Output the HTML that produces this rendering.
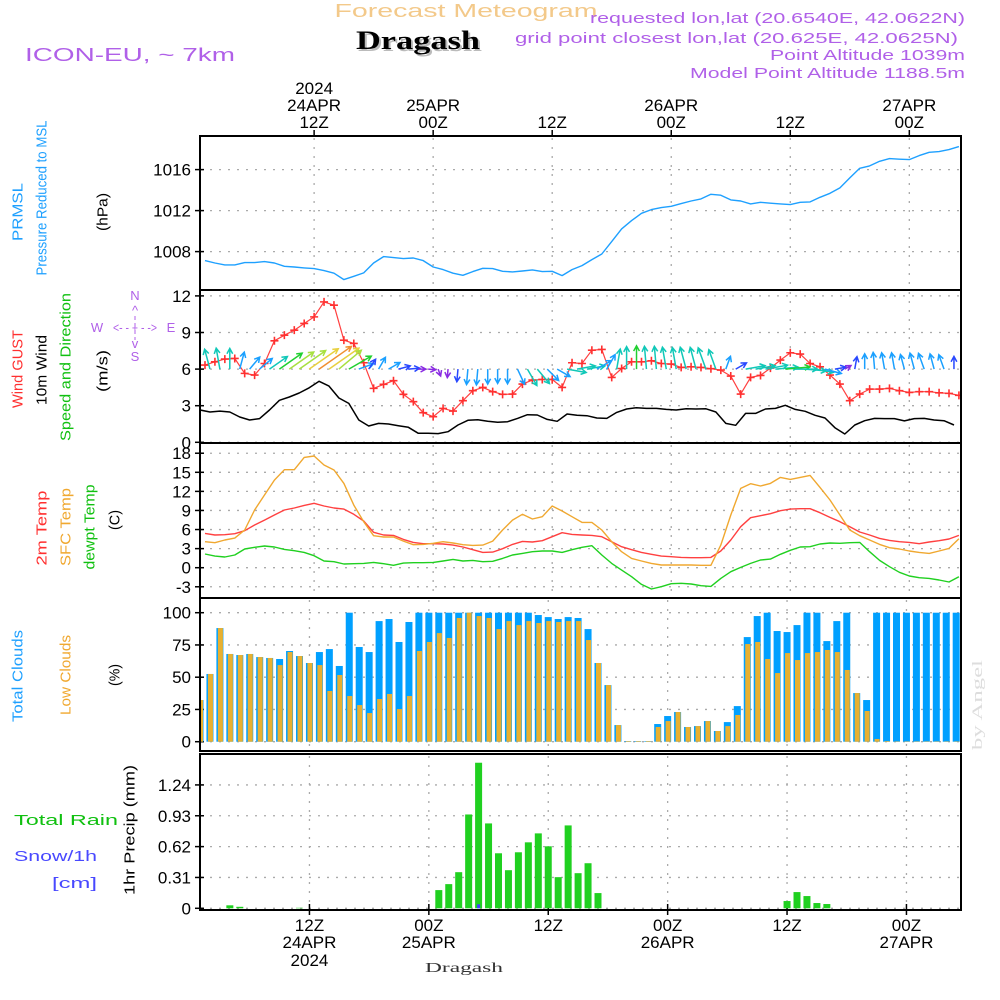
<!DOCTYPE html>
<html><head><meta charset="utf-8">
<style>
body{margin:0;background:#fff}
svg{display:block;font-family:"Liberation Sans",sans-serif}
</style></head>
<body>
<svg id="c" width="1000" height="1000" viewBox="0 0 1000 1000">
<rect x="0" y="0" width="1000" height="1000" fill="#fff"/>
<defs><clipPath id="plotclip"><rect x="201" y="130" width="759" height="790"/></clipPath></defs>
<text x="466" y="17" text-anchor="middle" font-size="18" fill="#f3c98a" textLength="263" lengthAdjust="spacingAndGlyphs">Forecast Meteogram</text>
<text x="418" y="49" text-anchor="middle" font-size="26" font-weight="bold" font-family="Liberation Serif, serif" fill="#bbb" textLength="124" lengthAdjust="spacingAndGlyphs" transform="translate(2,2)">Dragash</text>
<text x="418" y="49" text-anchor="middle" font-size="26" font-weight="bold" font-family="Liberation Serif, serif" fill="#000" textLength="124" lengthAdjust="spacingAndGlyphs">Dragash</text>
<text x="25" y="61" font-size="18" fill="#b060e8" textLength="210" lengthAdjust="spacingAndGlyphs">ICON-EU, ~ 7km</text>
<text x="965" y="23" text-anchor="end" font-size="15" fill="#b060e8" textLength="375" lengthAdjust="spacingAndGlyphs">requested lon,lat (20.6540E, 42.0622N)</text>
<text x="958" y="43" text-anchor="end" font-size="15" fill="#b060e8" textLength="443" lengthAdjust="spacingAndGlyphs">grid point closest lon,lat (20.625E, 42.0625N)</text>
<text x="965" y="60" text-anchor="end" font-size="15" fill="#b060e8" textLength="195" lengthAdjust="spacingAndGlyphs">Point Altitude 1039m</text>
<text x="965" y="78" text-anchor="end" font-size="15" fill="#b060e8" textLength="275" lengthAdjust="spacingAndGlyphs">Model Point Altitude 1188.5m</text>
<text x="464" y="972" text-anchor="middle" font-size="14" font-family="Liberation Serif, serif" fill="#333" textLength="78" lengthAdjust="spacingAndGlyphs">Dragash</text>
<text transform="translate(978,705) rotate(-90)" text-anchor="middle" dominant-baseline="central" font-size="15" font-family="Liberation Serif, serif" fill="#ddd" textLength="90" lengthAdjust="spacingAndGlyphs">by Angel</text>

<text transform="translate(18,212) rotate(-90)" text-anchor="middle" dominant-baseline="central" font-size="15" fill="#1ea0ff" textLength="58" lengthAdjust="spacingAndGlyphs">PRMSL</text>
<text transform="translate(42,198) rotate(-90)" text-anchor="middle" dominant-baseline="central" font-size="15" fill="#1ea0ff" textLength="155" lengthAdjust="spacingAndGlyphs">Pressure Reduced to MSL</text>
<text transform="translate(103,212) rotate(-90)" text-anchor="middle" dominant-baseline="central" font-size="15" fill="#000" textLength="38" lengthAdjust="spacingAndGlyphs">(hPa)</text>
<text transform="translate(18,369) rotate(-90)" text-anchor="middle" dominant-baseline="central" font-size="15" fill="#ff3030" textLength="78" lengthAdjust="spacingAndGlyphs">Wind GUST</text>
<text transform="translate(42,370) rotate(-90)" text-anchor="middle" dominant-baseline="central" font-size="15" fill="#000" textLength="70" lengthAdjust="spacingAndGlyphs">10m Wind</text>
<text transform="translate(66,367) rotate(-90)" text-anchor="middle" dominant-baseline="central" font-size="15" fill="#10c010" textLength="148" lengthAdjust="spacingAndGlyphs">Speed and Direction</text>
<text transform="translate(103,371) rotate(-90)" text-anchor="middle" dominant-baseline="central" font-size="15" fill="#000" textLength="42" lengthAdjust="spacingAndGlyphs">(m/s)</text>
<g fill="#b060e8" font-size="13" text-anchor="middle">
<text x="135" y="300">N</text><text x="135" y="315">^</text><text x="135" y="348">v</text><text x="135" y="361">S</text>
<text x="97" y="332">W</text><text x="171" y="332">E</text><text x="135" y="332" textLength="44" lengthAdjust="spacingAndGlyphs">&lt;- - + - -&gt;</text>
<line x1="135" y1="316" x2="135" y2="340" stroke="#b060e8" stroke-dasharray="4,3"/>
</g>
<text transform="translate(42,528) rotate(-90)" text-anchor="middle" dominant-baseline="central" font-size="15" fill="#ff3030" textLength="75" lengthAdjust="spacingAndGlyphs">2m Temp</text>
<text transform="translate(66,527) rotate(-90)" text-anchor="middle" dominant-baseline="central" font-size="15" fill="#f0a830" textLength="78" lengthAdjust="spacingAndGlyphs">SFC Temp</text>
<text transform="translate(90,527) rotate(-90)" text-anchor="middle" dominant-baseline="central" font-size="15" fill="#10c010" textLength="85" lengthAdjust="spacingAndGlyphs">dewpt Temp</text>
<text transform="translate(115,520) rotate(-90)" text-anchor="middle" dominant-baseline="central" font-size="15" fill="#000" textLength="20" lengthAdjust="spacingAndGlyphs">(C)</text>
<text transform="translate(18,676) rotate(-90)" text-anchor="middle" dominant-baseline="central" font-size="15" fill="#1ea0ff" textLength="92" lengthAdjust="spacingAndGlyphs">Total Clouds</text>
<text transform="translate(66,675) rotate(-90)" text-anchor="middle" dominant-baseline="central" font-size="15" fill="#f0a830" textLength="80" lengthAdjust="spacingAndGlyphs">Low Clouds</text>
<text transform="translate(115,675) rotate(-90)" text-anchor="middle" dominant-baseline="central" font-size="15" fill="#000" textLength="22" lengthAdjust="spacingAndGlyphs">(%)</text>
<text x="14" y="825" font-size="15" fill="#10c010" textLength="104" lengthAdjust="spacingAndGlyphs">Total  Rain</text>
<text x="14" y="861" font-size="15" fill="#4848ff" textLength="83" lengthAdjust="spacingAndGlyphs">Snow/1h</text>
<text x="52" y="888" font-size="15" fill="#4848ff" textLength="45" lengthAdjust="spacingAndGlyphs">[cm]</text>
<text transform="translate(130,830) rotate(-90)" text-anchor="middle" dominant-baseline="central" font-size="15" fill="#000" textLength="130" lengthAdjust="spacingAndGlyphs">1hr Precip (mm)</text>
<g id="g"></g>
</svg>
<script>
const pressure=[1007.12,1006.89,1006.70,1006.70,1006.93,1006.93,1007.02,1006.89,1006.57,1006.50,1006.41,1006.34,1006.15,1005.89,1005.27,1005.59,1005.92,1006.89,1007.51,1007.41,1007.32,1007.38,1007.12,1006.50,1006.24,1005.89,1005.69,1006.05,1006.37,1006.34,1006.08,1006.02,1006.11,1006.21,1006.05,1006.08,1005.66,1006.24,1006.63,1007.22,1007.77,1008.98,1010.21,1011.02,1011.74,1012.10,1012.29,1012.42,1012.68,1012.94,1013.14,1013.59,1013.50,1013.04,1012.94,1012.65,1012.81,1012.72,1012.65,1012.59,1012.81,1012.85,1013.30,1013.69,1014.21,1015.19,1016.13,1016.36,1016.81,1017.07,1017.01,1016.98,1017.37,1017.69,1017.76,1017.95,1018.24];
const gust=[6.33,6.60,6.82,6.87,5.65,5.51,6.46,8.32,8.78,9.19,9.74,10.28,11.51,11.24,8.37,8.10,6.52,4.42,4.75,5.05,3.93,3.33,2.43,2.10,2.78,2.56,3.41,4.23,4.50,4.15,3.93,3.95,4.77,5.10,5.15,5.15,4.50,6.52,6.46,7.55,7.61,5.32,6.05,6.60,6.60,6.68,6.46,6.41,6.14,6.19,6.14,6.03,5.92,5.43,3.95,5.32,5.48,6.08,6.74,7.34,7.23,6.46,6.19,5.51,4.77,3.41,3.95,4.36,4.36,4.42,4.23,4.09,4.15,4.15,4.06,4.01,3.85];
const wind10=[2.65,2.48,2.56,2.48,2.07,1.83,1.94,2.65,3.44,3.71,4.04,4.47,5.0,4.61,3.63,3.19,1.83,1.34,1.55,1.50,1.36,1.23,0.74,0.74,0.71,0.87,1.42,1.80,1.85,1.72,1.64,1.69,1.96,2.26,2.24,1.88,1.72,2.32,2.21,2.18,1.99,1.96,2.45,2.73,2.84,2.78,2.78,2.70,2.65,2.75,2.73,2.75,2.48,1.55,1.39,2.37,2.37,2.73,2.78,3.03,2.70,2.54,2.21,1.99,1.20,0.68,1.42,1.77,1.96,1.94,1.94,1.75,1.94,1.96,1.83,1.77,1.42];
const windDir=[170,165,170,180,195,220,230,235,235,235,235,235,235,235,230,240,250,215,210,240,255,265,270,275,340,5,5,5,5,0,0,0,335,330,320,315,300,280,260,260,240,210,190,180,180,175,175,170,170,165,165,160,160,200,240,260,260,260,265,265,270,275,280,285,260,240,190,180,175,170,170,165,165,160,165,160,180];
const temp2m=[5.40,5.14,5.19,5.35,5.82,6.71,7.49,8.28,9.07,9.38,9.80,10.12,9.70,9.38,9.22,8.39,7.34,5.56,5.14,5.08,4.45,3.98,3.77,3.77,3.72,3.56,3.25,2.83,2.41,2.46,2.99,3.67,4.14,4.04,4.25,4.87,5.50,5.24,5.14,5.08,4.87,4.09,3.30,2.83,2.41,2.10,1.83,1.73,1.62,1.57,1.57,1.62,2.62,4.35,6.45,7.86,8.18,8.49,8.96,9.22,9.28,9.28,8.65,7.91,7.23,6.45,5.61,5.14,4.61,4.30,4.09,3.98,3.77,4.04,4.25,4.51,5.08];
const tempSfc=[4.09,3.93,4.35,4.66,5.92,9.07,11.43,13.78,15.41,15.41,17.35,17.56,16.14,15.36,13.26,9.85,7.23,5.03,4.82,4.82,4.19,3.62,3.67,3.83,4.09,3.88,3.62,3.51,3.56,4.19,5.92,7.49,8.39,7.65,8.02,9.70,8.91,8.02,7.13,7.13,5.92,4.09,2.52,1.47,1.05,0.68,0.42,0.42,0.42,0.42,0.37,0.37,3.56,8.28,12.47,13.21,12.84,13.26,14.20,13.89,14.20,14.52,12.63,10.64,8.28,5.92,5.03,4.35,3.67,3.14,2.94,2.62,2.41,2.25,2.62,3.04,4.56];
const dewpt=[2.15,1.83,1.68,1.99,2.94,3.20,3.41,3.25,2.88,2.67,2.41,1.89,1.05,0.94,0.58,0.63,0.68,0.84,0.63,0.37,0.73,0.79,0.79,0.84,1.05,1.31,1.05,1.15,0.94,1.00,1.47,1.99,2.25,2.52,2.62,2.62,2.41,2.83,3.20,3.46,1.99,0.68,-0.37,-1.42,-2.62,-3.35,-2.99,-2.52,-2.46,-2.57,-2.83,-2.94,-1.68,-0.63,0.05,0.68,1.21,1.36,2.10,2.73,3.25,3.30,3.72,3.88,3.83,3.93,3.98,2.52,1.15,0.16,-0.73,-1.31,-1.57,-1.68,-1.94,-2.25,-1.42];
const totalClouds=[32.3,52.5,88.1,68,67.2,68,65.6,64.9,64.1,70.3,66.4,61,69.5,71.8,58.7,100,73.4,69.5,93.5,95.1,77.3,92.8,100,100,100,100,100,100,100,100,100,100,100,100,98.2,96.6,95.1,96.6,95.9,87.3,61,43.9,12.9,0.5,0.5,0.5,13.7,19.9,23,11.4,12.1,16,8.3,15.2,27.6,81.1,97.4,100,85.8,85,90.4,100,100,78,93.5,100,37.7,32.3,100,100,100,100,100,100,100,100,100];
const lowClouds=[32.3,52.5,88.1,68,67.2,68,65.6,64.9,59.4,69.5,66.4,61,59.4,39.3,51.7,35.4,28.4,22.2,33.1,37,25.3,35.4,70.3,77.3,84.2,80.4,95.9,100,97.4,95.9,87.3,93.5,90.4,93.5,92,93.5,92.8,93.5,93.5,78.8,61,43.9,12.9,0.5,0.5,0.5,11.4,16,23,11.4,12.1,16,8.3,12.1,20.7,75.7,77.3,64.1,53.2,68.7,63.3,68.7,69.5,71.1,69.5,55.6,37.7,23.8,2.1,0.5,0.3,0.3,0.3,0.3,0.3,0.3,0.3];
const rain=[0,0,0,0.03,0.015,0,0,0,0,0,0.005,0,0,0,0,0,0,0,0,0,0,0,0,0,0.183,0.243,0.363,0.943,1.463,0.853,0.553,0.383,0.563,0.663,0.753,0.623,0.313,0.833,0.353,0.453,0.153,0,0,0,0,0,0,0,0,0,0,0,0,0,0,0,0,0,0,0.073,0.163,0.123,0.053,0.043,0,0,0,0,0,0,0,0,0,0,0,0,0];
const snow=[0,0,0,0,0,0,0,0,0,0,0,0,0,0,0,0,0,0,0,0,0,0,0,0,0,0,0,0,0.02,0,0,0,0,0,0,0,0,0,0,0,0,0,0,0,0,0,0,0,0,0,0,0,0,0,0,0,0,0,0,0,0,0,0,0,0,0,0,0,0,0,0,0,0,0,0,0,0];
const gridHours=[11,23,35,47,59,71];
const topLabel1=['2024','','','','',''];
const topLabel2=['24APR','25APR','','26APR','','27APR'];
const timeLabelZ=['12Z','00Z','12Z','00Z','12Z','00Z'];
const botLabel3=['2024','','','','',''];
const pTicks=[1008,1012,1016];
const wTicks=[0,3,6,9,12];
const tTicks=[-3,0,3,6,9,12,15,18];
const cTicks=[0,25,50,75,100];
const rTicks=[0,0.31,0.62,0.93,1.24];

const xT=t=>205+9.92*t;
const xB=t=>200+9.95*t;
const yP=p=>251.6-(p-1008)*10.25;
const yW=v=>442.3-v*12.2;
const yT=T=>567.7-T*6.36;
const yC=c=>741.7-c*1.29;
const yR=r=>908.3-r*99.5;

const NS='http://www.w3.org/2000/svg';
const root=document.getElementById('g');
function mk(tag,attrs,parent){const e=document.createElementNS(NS,tag);for(const k in attrs)e.setAttribute(k,attrs[k]);(parent||root).appendChild(e);return e;}

const panels=[
 {name:'pressure',top:136,bot:290,ticks:pTicks,y:yP,fmt:v=>String(v),xf:xT},
 {name:'wind',top:290,bot:443,ticks:wTicks,y:yW,fmt:v=>String(v),xf:xT},
 {name:'temperature',top:443,bot:598,ticks:tTicks,y:yT,fmt:v=>String(v),xf:xT},
 {name:'clouds',top:598,bot:751,ticks:cTicks,y:yC,fmt:v=>String(v),xf:xB},
 {name:'precip',top:754,bot:910,ticks:rTicks,y:yR,fmt:v=>String(v),xf:xB}
];
panels.forEach(p=>{
 const g=mk('g',{});
 
 
 p.ticks.forEach(v=>{
  const y=p.y(v);
  const gl=mk('line',{x1:201,x2:960,y1:y,y2:y,stroke:'#aaa','stroke-width':1.3,'stroke-dasharray':'2,7'},g);
  
  
  const tk=mk('line',{x1:195,x2:204,y1:y,y2:y,stroke:'#000','stroke-width':1.5},g);
  
  
  const tl=mk('text',{x:191,y:y+6,'text-anchor':'end','font-size':17,fill:'#000'},g);
  tl.textContent=p.fmt(v);
  
  
 });
 gridHours.forEach(h=>{
  const x=p.xf(h);
  const vl=mk('line',{x1:x,x2:x,y1:p.top+2,y2:p.bot-1,stroke:'#aaa','stroke-width':1.3,'stroke-dasharray':'2,7'},g);
  
  
 });
 const fr=mk('rect',{x:200,y:p.top,width:761,height:p.bot-p.top,fill:'none',stroke:'#000','stroke-width':2},g);
 
 
});

gridHours.forEach((h,i)=>{
 const x=xT(h);
 const t=mk('line',{x1:x,x2:x,y1:130,y2:137,stroke:'#000','stroke-width':1.5});
 
 
 [[topLabel1[i],94],[topLabel2[i],111],[timeLabelZ[i],128]].forEach(([s,y])=>{
  if(!s)return;
  const e=mk('text',{x:x,y:y,'text-anchor':'middle','font-size':17,fill:'#000'});
  e.textContent=s;
  
  
 });
 const xb=xB(h);
 const tb=mk('line',{x1:xb,x2:xb,y1:904,y2:915,stroke:'#000','stroke-width':1.5});
 
 
 [[timeLabelZ[i],931],[topLabel2[i],948],[botLabel3[i],966]].forEach(([s,y])=>{
  if(!s)return;
  const e=mk('text',{x:xb,y:y,'text-anchor':'middle','font-size':17,fill:'#000'});
  e.textContent=s;
  
  
 });
});

const clip=mk('g',{'clip-path':'url(#plotclip)'});


function line(arr,xf,yf,color,name,w){
 const d=arr.map((v,i)=>(i?'L':'M')+xf(i).toFixed(1)+' '+yf(v).toFixed(1)).join(' ');
 const e=mk('path',{d:d,fill:'none',stroke:color,'stroke-width':w||1.4,'stroke-linejoin':'round'},clip);
 
 
}
line(pressure,xT,yP,'#1ea0ff','pressure-line');
line(wind10,i=>xT(i-0.5),yW,'#000','wind-speed-line',1.5);
line(gust,xT,yW,'#ff4040','gust-line',1.2);
gust.forEach((v,i)=>{
 const x=xT(i),y=yW(v);
 const m=mk('path',{d:`M${x-4} ${y}h8M${x} ${y-4}v8`,stroke:'#ff3030','stroke-width':1.6},clip);
 
 
});
function windColor(v){
 if(v<1)return '#8a2be2';if(v<1.5)return '#2848ff';if(v<2.1)return '#1aa0ff';
 if(v<2.8)return '#10c8b8';if(v<3.5)return '#20d030';if(v<4.2)return '#a8e040';
 if(v<4.7)return '#e8d040';return '#f09030';
}
wind10.forEach((v,i)=>{
 const x0=xT(i-0.5),y0=yW(6);
 const th=(windDir[i]+180)*Math.PI/180;
 const L=2+7.5*v;
 const x1=x0+L*Math.sin(th),y1=y0-L*Math.cos(th);
 const a1=th+Math.PI-0.5,a2=th+Math.PI+0.5;
 const d=`M${x0} ${y0}L${x1} ${y1}M${x1+6*Math.sin(a1)} ${y1-6*Math.cos(a1)}L${x1} ${y1}L${x1+6*Math.sin(a2)} ${y1-6*Math.cos(a2)}`;
 const c=windColor(v);
 const e=mk('path',{d:d,stroke:c,'stroke-width':1.5,fill:'none'},clip);
 
 
});
line(temp2m,xT,yT,'#ff4040','temp-2m-line');
line(tempSfc,xT,yT,'#f0a830','temp-sfc-line');
line(dewpt,xT,yT,'#20d020','dewpoint-line');
totalClouds.forEach((v,i)=>{
 const x=xB(i),y=yC(v);
 const b=mk('rect',{x:x-3.5,y:y,width:7,height:yC(0)-y,fill:'#00a0ff'},clip);
 
 
 const l=lowClouds[i],yl=yC(l);
 const o=mk('rect',{x:x-2,y:yl,width:5,height:yC(0)-yl,fill:'#e8b030'},clip);
 
 
});
rain.forEach((v,i)=>{
 if(v<=0)return;
 const x=xB(i),y=yR(v);
 const b=mk('rect',{x:x-3.5,y:y,width:7,height:yR(0)-y,fill:'#20d020'},clip);
 
 
});
snow.forEach((v,i)=>{
 if(v<=0)return;
 const x=xB(i);
 const b=mk('rect',{x:x-1.5,y:yR(0)-4,width:3,height:4,fill:'#4040ff'},clip);
 
 
});
</script>
</body></html>
